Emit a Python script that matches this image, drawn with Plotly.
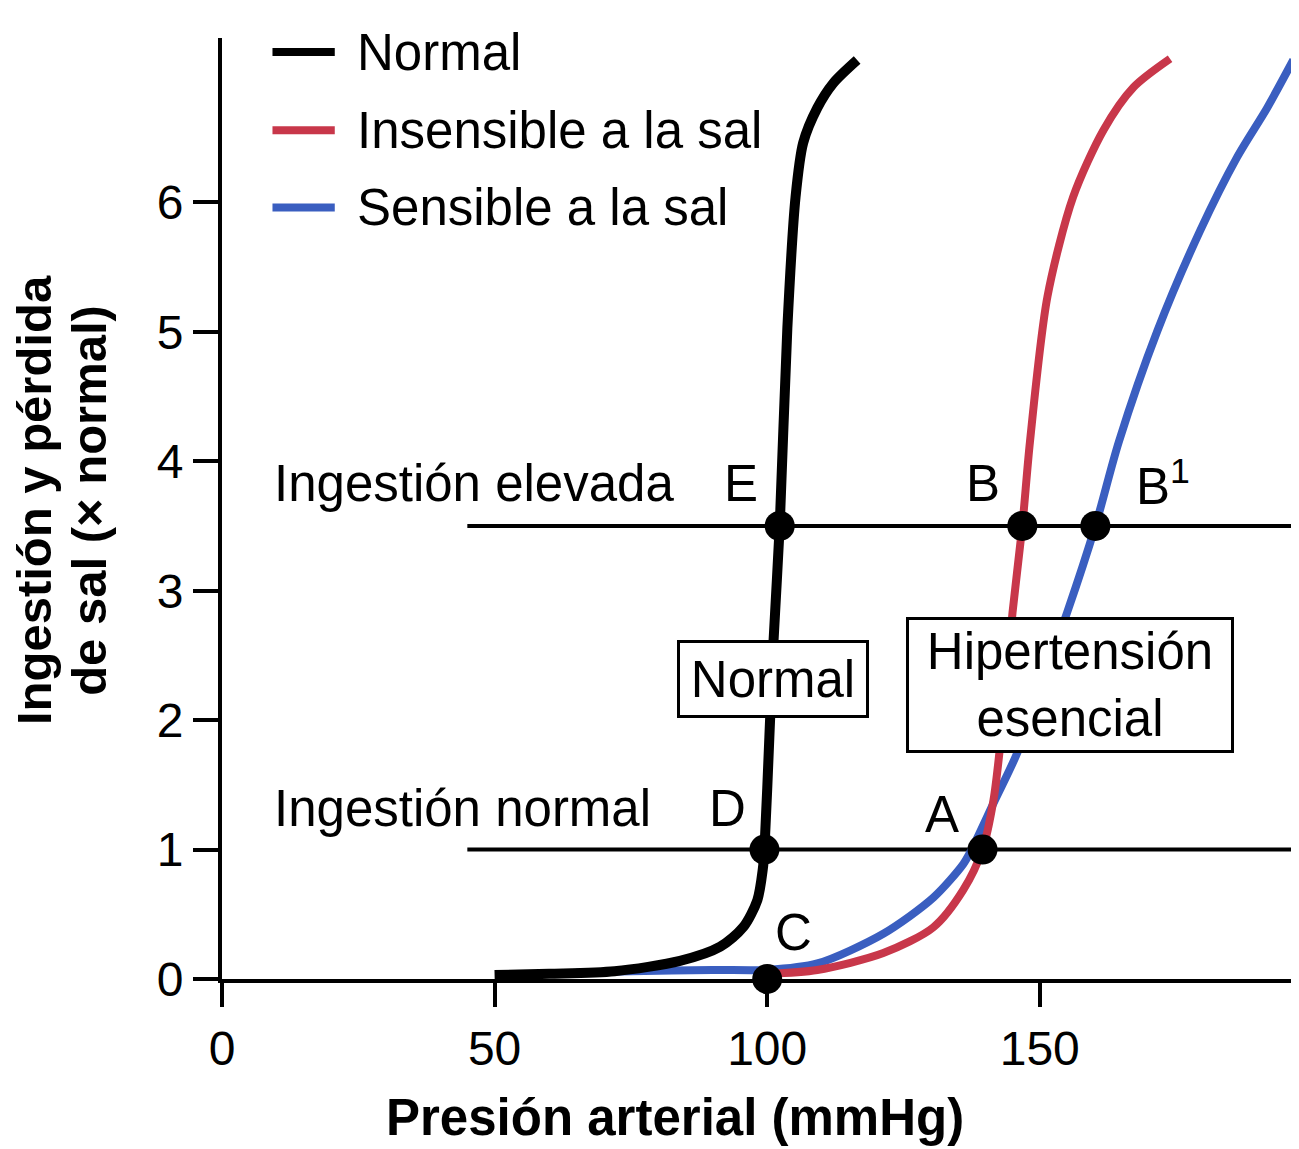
import plotly.graph_objects as go

# presion arterial (mmHg) vs ingestion / perdida de sal (x normal)
normal_x = [50, 60, 72, 84, 91.4, 95.6, 98.2, 99.2, 99.5, 100.4, 101.1, 102.3, 103.7, 105.2, 106.6, 109.2, 112.1, 116.5]
normal_y = [0.03, 0.04, 0.06, 0.14, 0.25, 0.40, 0.61, 0.85, 1.0, 1.87, 2.56, 3.5, 5.03, 6.04, 6.46, 6.73, 6.92, 7.10]

insens_x = [100, 109.2, 121.3, 130.5, 136, 139.5, 141.5, 142.6, 145, 146.8, 148.2, 151.4, 156.1, 161.7, 167.2, 173.9]
insens_y = [0.04, 0.07, 0.2, 0.40, 0.69, 1.0, 1.38, 1.75, 2.83, 3.5, 4.15, 5.27, 6.04, 6.56, 6.89, 7.11]

sens_x = [65, 75, 90, 100, 109.2, 121.3, 130.5, 136, 137.5, 141.7, 145.9, 150, 155, 160.2, 164.5, 171.6, 179.4, 186.2, 191.7, 196.5]
sens_y = [0.05, 0.06, 0.07, 0.07, 0.12, 0.35, 0.63, 0.89, 1.0, 1.375, 1.75, 2.25, 2.83, 3.5, 4.15, 5.01, 5.78, 6.35, 6.73, 7.10]

series_names = ["Normal", "Insensible a la sal", "Sensible a la sal"]
series_colors = ["#000000", "#C8374A", "#3A5EC0"]

# niveles de ingestion (lineas horizontales)
intake_levels = [1.0, 3.5]
intake_labels = ["Ingestión normal", "Ingestión elevada"]
intake_x0 = 45
intake_x1 = 197

# puntos de equilibrio
point_names = ["C", "D", "A", "E", "B", "B<sup>1</sup>"]
point_x = [100, 99.5, 139.5, 102.3, 146.8, 160.2]
point_y = [0, 1, 1, 3.5, 3.5, 3.5]
# posicion de las letras
label_x = [104.8, 92.8, 132.1, 95.2, 139.6, 167.2]
label_y = [0.36, 1.32, 1.27, 3.83, 3.83, 3.83]

x_ticks = [0, 50, 100, 150]
y_ticks = [0, 1, 2, 3, 4, 5, 6]

FONT = "Liberation Sans, Arial, sans-serif"

fig = go.Figure()

# lineas de ingestion
for lvl in intake_levels:
    fig.add_trace(go.Scatter(x=[intake_x0, intake_x1], y=[lvl, lvl], mode="lines",
                             line=dict(color="black", width=4), showlegend=False,
                             hoverinfo="skip"))

# curvas (azul debajo, luego rojo, luego negro)
curves = [(sens_x, sens_y, 2, 8), (insens_x, insens_y, 1, 8), (normal_x, normal_y, 0, 10)]
for xs, ys, i, w in curves:
    fig.add_trace(go.Scatter(x=xs, y=ys, mode="lines", name=series_names[i],
                             line=dict(color=series_colors[i], width=w, shape="spline", smoothing=0.8),
                             showlegend=False))

fig.add_trace(go.Scatter(x=point_x, y=point_y, mode="markers",
                         marker=dict(color="black", size=30), cliponaxis=False,
                         showlegend=False, hoverinfo="skip"))

annotations = []
for name, lx, ly in zip(point_names, label_x, label_y):
    anchor = "left" if "sup" in name else "center"
    annotations.append(dict(x=lx, y=ly, text=name, showarrow=False, xanchor=anchor,
                            yanchor="middle", font=dict(size=51)))
for lvl, txt, ly in zip(intake_levels, intake_labels, [1.32, 3.83]):
    annotations.append(dict(x=9.2, y=ly, text=txt, showarrow=False, xanchor="left",
                            yanchor="middle", font=dict(size=51)))

# cajas
annotations.append(dict(x=101.1, y=2.32, text="Normal", showarrow=False,
                        bgcolor="white", bordercolor="black", borderwidth=3, borderpad=2,
                        width=182, height=68, font=dict(size=51)))
annotations.append(dict(x=155.6, y=2.27, text="Hipertensión<br>esencial", showarrow=False,
                        bgcolor="white", bordercolor="black", borderwidth=3, borderpad=2,
                        width=318, height=126, font=dict(size=51)))

# titulos de ejes
annotations.append(dict(xref="paper", yref="paper", x=0.422, y=-0.147,
                        text="<b>Presión arterial (mmHg)</b>", showarrow=False,
                        xanchor="center", yanchor="middle", font=dict(size=51)))
y_title = ["<b>Ingestión y pérdida</b>", "<b>de sal (× normal)</b>"]
for txt, px in zip(y_title, [-0.175, -0.124]):
    annotations.append(dict(xref="paper", yref="paper", x=px, y=0.509, text=txt,
                            showarrow=False, textangle=-90, xanchor="center",
                            yanchor="middle", font=dict(size=49)))

# leyenda manual
shapes = []
leg_y = [0.985, 0.902, 0.820]
for name, col, yy in zip(series_names, series_colors, leg_y):
    shapes.append(dict(type="line", xref="paper", yref="paper", x0=0.047, x1=0.105,
                       y0=yy, y1=yy, line=dict(color=col, width=8)))
    annotations.append(dict(xref="paper", yref="paper", x=0.124, y=yy, text=name,
                            showarrow=False, xanchor="left", yanchor="middle",
                            font=dict(size=51)))

fig.update_layout(
    width=1299, height=1149,
    margin=dict(l=214, r=11, t=30, b=178),
    plot_bgcolor="white", paper_bgcolor="white",
    font=dict(family=FONT, color="black", size=48),
    annotations=annotations, shapes=shapes,
    xaxis=dict(range=[0, 197], tickvals=x_ticks, ticks="outside", ticklen=24, tickwidth=4,
               tickcolor="black", showline=True, linecolor="black", linewidth=4,
               showgrid=False, zeroline=False, tickfont=dict(size=48)),
    yaxis=dict(range=[0, 7.27], tickvals=y_ticks, ticks="outside", ticklen=25, tickwidth=4,
               tickcolor="black", showline=True, linecolor="black", linewidth=4,
               showgrid=False, zeroline=False, tickfont=dict(size=48)),
)

fig.write_html("out.html")
